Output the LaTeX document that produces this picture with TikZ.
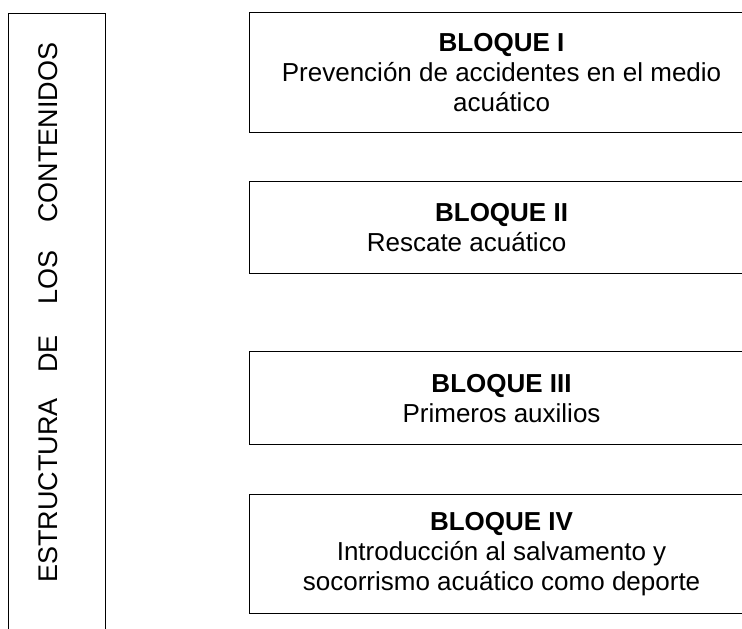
\documentclass[tikz,border=0pt]{standalone}
\usepackage{fontspec}
\setmainfont{Liberation Sans}
\begin{document}
\begin{tikzpicture}[x=1pt,y=-1pt,
  blk/.style={draw, line width=1.1pt, align=center, anchor=north west,
    minimum width=504pt, inner sep=0pt, font=\fontsize{26}{30}\selectfont},
  colbox/.style={draw, line width=1.1pt, anchor=north west, inner sep=0pt,
    minimum width=97pt, minimum height=640pt},
  vword/.style={rotate=90, anchor=base west, inner sep=0pt,
    font=\fontsize{27}{30}\selectfont}]
\useasboundingbox (0,0) rectangle (742,629);
\clip (0,0) rectangle (742,629);
\node[colbox] (col) at (8,13) {};
\node[vword] (w1) at (57,583) {ESTRUCTURA};
\node[vword] (w2) at (57,373) {DE};
\node[vword] (w3) at (57,305) {LOS};
\node[vword] (w4) at (57,223) {CONTENIDOS};
\node[blk, minimum height=120pt] (b1) at (249,12)
  {\textbf{BLOQUE I}\\Prevención de accidentes en el medio\hspace*{20pt}\\acuático};
\node[blk, minimum height=92pt] (b2) at (249,181)
  {\textbf{BLOQUE II}\\Rescate acuático\hspace*{70pt}};
\node[blk, minimum height=93pt] (b3) at (249,351)
  {\textbf{BLOQUE III}\\Primeros auxilios};
\node[blk, minimum height=119pt] (b4) at (249,494)
  {\textbf{BLOQUE IV}\\Introducción al salvamento y\\socorrismo acuático como deporte};
\end{tikzpicture}
\end{document}
